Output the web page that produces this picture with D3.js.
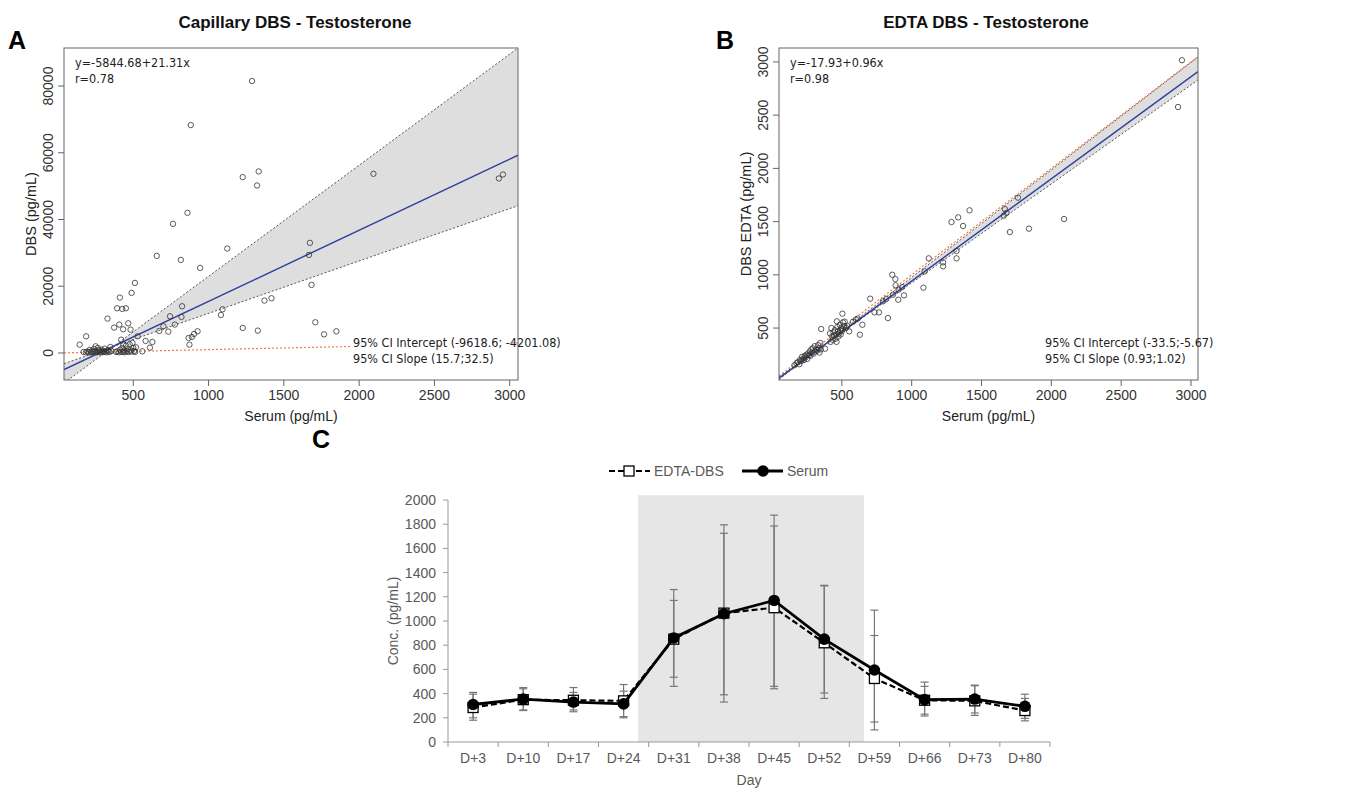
<!DOCTYPE html>
<html>
<head>
<meta charset="utf-8">
<script src="https://cdn.jsdelivr.net/npm/d3@7"></script>
<style>
body { margin: 0; background: #fff; }
text { font-family: "Liberation Sans", Arial, sans-serif; }
.note { font-family: "Liberation Sans Narrow", "DejaVu Sans Condensed", sans-serif; font-size: 12.5px; fill: #222; }
</style>
</head>
<body>
<svg id="fig" width="1354" height="788"></svg>
<script>
// ---- panel A: capillary DBS vs serum ----
const capSerum = [1289, 882, 2095, 2928, 2955, 1227, 1333, 1322, 860, 764, 1673, 1667, 1684, 1124, 656, 816, 944,
  511, 489, 411, 393, 427, 451, 824, 1371, 1418, 329, 373, 407, 467, 433, 482, 744, 820, 1082, 1093, 700, 673,
  733, 776, 867, 889, 904, 927, 873, 582, 627, 611, 560, 529, 1227, 1327, 1709, 1767, 1849, 187, 144, 420, 433,
  170, 185, 195, 205, 210, 218, 225, 232, 240, 245, 250, 255, 260, 265, 270, 275, 280, 288, 292, 298, 305, 310,
  315, 322, 330, 335, 342, 348, 355,
  385, 395, 405, 412, 420, 428, 432, 440, 445, 452, 458, 463, 470, 476, 482, 488, 495, 500, 506, 512, 518];
const capDbs = [81500, 68300, 53700, 52300, 53500, 52700, 54400, 50200, 42000, 38700, 33000, 29400, 20400, 31300,
  29100, 27900, 25500, 21000, 18000, 16600, 13400, 13200, 13400, 14000, 15700, 16400, 10300, 7600, 8500, 8900,
  7100, 7000, 11000, 10800, 11400, 13100, 8000, 6600, 6400, 8500, 4500, 4800, 5700, 6500, 2500, 3600, 3300, 1600,
  500, 5000, 7500, 6700, 9200, 5600, 6500, 5000, 2500, 4000, 2600,
  300, 200, 400, 250, 900, 150, 600, 300, 1200, 350, 2000, 500, 200, 1500, 800, 300, 400, 1000, 200, 600, 300,
  1300, 500, 200, 800, 400, 300, 1800, 600,
  300, 500, 200, 1000, 400, 1500, 300, 700, 200, 2200, 500, 1200, 300, 2600, 800, 400, 3000, 1500, 600, 300, 1700];
const capFit = [-5844.68, 21.31];
const capBand = [[-10330, 33.3], [-3830, 15.7]];

// ---- panel B: EDTA DBS vs serum ----
const edtaSerum = [2935, 2907, 2091, 1840, 1703, 1761, 1667, 1679, 1660, 1414, 1333, 1285, 1368, 1321, 1321, 1225,
  1225, 1122, 1093, 1084, 861, 883, 885, 906, 932, 945, 904, 866, 818, 794, 766, 734, 703, 830, 647, 629, 552,
  504, 508, 464, 352, 380,
  415, 420, 425, 430, 435, 440, 445, 450, 455, 460, 462, 468, 472, 475, 480, 485, 488, 492, 496, 500, 505, 515,
  520, 530, 540, 580, 600, 615,
  160, 175, 185, 195, 200, 210, 215, 220, 228, 235, 240, 248, 252, 258, 265, 270, 275, 282, 288, 292, 298, 305,
  310, 318, 325, 330, 335, 340, 345, 350];
const edtaDbs = [3016, 2577, 1524, 1434, 1402, 1725, 1618, 1581, 1556, 1606, 1540, 1496, 1459, 1224, 1155, 1117,
  1080, 1155, 1032, 879, 1001, 960, 901, 860, 885, 807, 766, 813, 773, 751, 647, 647, 776, 594, 531, 437, 469,
  635, 553, 563, 491, 306,
  450, 370, 500, 420, 390, 460, 430, 480, 400, 440, 370, 510, 470, 420, 450, 530, 480, 440, 500, 470, 490, 520,
  560, 500, 520, 560, 580, 590,
  150, 170, 180, 160, 200, 190, 230, 210, 200, 240, 225, 250, 210, 260, 245, 280, 240, 300, 270, 310, 260, 330,
  280, 300, 290, 340, 310, 270, 360, 300];
const edtaFit = [-17.93, 0.96];
const edtaBand = [[-33.5, 1.01], [-5.67, 0.93]];

const serumTicks = [500, 1000, 1500, 2000, 2500, 3000];

// ---- panel C: time course ----
const days = ["D+3", "D+10", "D+17", "D+24", "D+31", "D+38", "D+45", "D+52", "D+59", "D+66", "D+73", "D+80"];
const serumMean = [310, 355, 330, 315, 860, 1060, 1170, 850, 595, 350, 355, 295];
const serumLo = [200, 260, 250, 210, 460, 330, 460, 405, 100, 215, 240, 195];
const serumHi = [410, 450, 410, 420, 1260, 1795, 1875, 1295, 1090, 495, 470, 395];
const edtaMean = [285, 350, 345, 340, 850, 1065, 1110, 820, 525, 345, 340, 260];
const edtaLo = [180, 265, 265, 200, 535, 390, 440, 360, 165, 230, 220, 175];
const edtaHi = [395, 440, 450, 475, 1170, 1725, 1785, 1290, 880, 460, 465, 360];
const concTicks = [0, 200, 400, 600, 800, 1000, 1200, 1400, 1600, 1800, 2000];

const svg = d3.select("#fig");

function scatterPanel(p) {
    const x = d3.scaleLinear().domain(p.xDomain).range([p.left, p.right]);
    const y = d3.scaleLinear().domain(p.yDomain).range([p.bottom, p.top]);
    const g = svg.append("g");

    g.append("clipPath").attr("id", p.id + "clip")
        .append("rect")
        .attr("x", p.left).attr("y", p.top)
        .attr("width", p.right - p.left).attr("height", p.bottom - p.top);
    const inner = g.append("g").attr("clip-path", `url(#${p.id}clip)`);

    const x0 = p.xDomain[0], x1 = p.xDomain[1];
    const f = (l, v) => l[0] + l[1] * v;
    const [b1, b2] = p.band;
    inner.append("path")
        .attr("d", `M${x(x0)},${y(f(b1, x0))}L${x(x1)},${y(f(b1, x1))}L${x(x1)},${y(f(b2, x1))}L${x(x0)},${y(f(b2, x0))}Z`)
        .attr("fill", "#dedede");
    p.band.forEach(l => {
        inner.append("line")
            .attr("x1", x(x0)).attr("y1", y(f(l, x0)))
            .attr("x2", x(x1)).attr("y2", y(f(l, x1)))
            .attr("stroke", "#555").attr("stroke-width", 1).attr("stroke-dasharray", "2,2");
    });
    inner.append("line")
        .attr("x1", x(x0)).attr("y1", y(x0))
        .attr("x2", x(x1)).attr("y2", y(x1))
        .attr("stroke", "#f07a45").attr("stroke-width", 1.2).attr("stroke-dasharray", "2,2");
    inner.append("line")
        .attr("x1", x(x0)).attr("y1", y(f(p.fit, x0)))
        .attr("x2", x(x1)).attr("y2", y(f(p.fit, x1)))
        .attr("stroke", "#2c3e9e").attr("stroke-width", 1.4);

    inner.selectAll("circle")
        .data(p.xs.map((v, i) => [v, p.ys[i]]))
        .join("circle")
        .attr("cx", d => x(d[0]))
        .attr("cy", d => y(d[1]))
        .attr("r", 2.7)
        .attr("fill", "none")
        .attr("stroke", "#333")
        .attr("stroke-width", 0.8);

    // box
    g.append("rect")
        .attr("x", p.left).attr("y", p.top)
        .attr("width", p.right - p.left).attr("height", p.bottom - p.top)
        .attr("fill", "none").attr("stroke", "#666").attr("stroke-width", 1);

    // x axis
    p.xTicks.forEach(t => {
        g.append("line").attr("x1", x(t)).attr("x2", x(t))
            .attr("y1", p.bottom).attr("y2", p.bottom + 6).attr("stroke", "#666");
        g.append("text").attr("x", x(t)).attr("y", p.bottom + 20)
            .attr("text-anchor", "middle").attr("font-size", 14).attr("fill", "#333").text(t);
    });
    // y axis
    p.yTicks.forEach(t => {
        g.append("line").attr("x1", p.left - 6).attr("x2", p.left)
            .attr("y1", y(t)).attr("y2", y(t)).attr("stroke", "#666");
        g.append("text")
            .attr("transform", `translate(${p.left - 11},${y(t)}) rotate(-90)`)
            .attr("text-anchor", "middle").attr("font-size", 14).attr("fill", "#333").text(t);
    });

    g.append("text").attr("x", (p.left + p.right) / 2).attr("y", p.bottom + 41)
        .attr("text-anchor", "middle").attr("font-size", 14).attr("fill", "#222").text("Serum (pg/mL)");
    g.append("text")
        .attr("transform", `translate(${p.left - 28},${(p.top + p.bottom) / 2}) rotate(-90)`)
        .attr("text-anchor", "middle").attr("font-size", 14.5).attr("fill", "#222").text(p.yTitle);

    g.append("text").attr("x", p.titleX).attr("y", 28)
        .attr("text-anchor", "middle").attr("font-weight", "bold").attr("font-size", 17)
        .style("font-family", "'Liberation Sans Narrow', 'Liberation Sans', sans-serif")
        .attr("fill", "#111").text(p.title);
    g.append("text").attr("x", p.letterX).attr("y", 49)
        .attr("font-weight", "bold").attr("font-size", 25).attr("fill", "#000").text(p.letter);

    g.append("text").attr("class", "note").attr("x", p.left + 11).attr("y", 67).text(p.eq);
    g.append("text").attr("class", "note").attr("x", p.left + 11).attr("y", 83).text(p.r);

    g.append("rect").attr("x", p.ciX - 3).attr("y", 334)
        .attr("width", p.right - p.ciX - 4).attr("height", 34).attr("fill", "#fff");
    g.append("text").attr("class", "note").attr("x", p.ciX).attr("y", 347).text(p.ci1);
    g.append("text").attr("class", "note").attr("x", p.ciX).attr("y", 363).text(p.ci2);
}

scatterPanel({
    id: "a", left: 64, right: 518, top: 48, bottom: 380,
    xDomain: [40, 3055], yDomain: [-8100, 91400],
    xTicks: serumTicks, yTicks: [0, 20000, 40000, 60000, 80000],
    xs: capSerum, ys: capDbs, fit: capFit, band: capBand,
    yTitle: "DBS (pg/mL)", title: "Capillary DBS - Testosterone", titleX: 295,
    letter: "A", letterX: 8,
    eq: "y=-5844.68+21.31x", r: "r=0.78", ciX: 353,
    ci1: "95% CI Intercept (-9618.6; -4201.08)", ci2: "95% CI Slope (15.7;32.5)"
});

scatterPanel({
    id: "b", left: 779, right: 1198, top: 48, bottom: 380,
    xDomain: [50, 3050], yDomain: [12, 3131],
    xTicks: serumTicks, yTicks: [500, 1000, 1500, 2000, 2500, 3000],
    xs: edtaSerum, ys: edtaDbs, fit: edtaFit, band: edtaBand,
    yTitle: "DBS EDTA (pg/mL)", title: "EDTA DBS - Testosterone", titleX: 986,
    letter: "B", letterX: 716,
    eq: "y=-17.93+0.96x", r: "r=0.98", ciX: 1045,
    ci1: "95% CI Intercept (-33.5;-5.67)", ci2: "95% CI Slope (0.93;1.02)"
});

// ---- panel C ----
const cx = d3.scaleBand().domain(days).range([448, 1050]);
const cy = d3.scaleLinear().domain([0, 2000]).range([742, 500]);
const gc = svg.append("g");
const grey = "#595959";
const bw = cx.bandwidth();

gc.append("rect")
    .attr("x", cx("D+24") + 0.79 * bw)
    .attr("y", cy(2040))
    .attr("width", cx("D+59") + 0.29 * bw - (cx("D+24") + 0.79 * bw))
    .attr("height", cy(0) - cy(2040))
    .attr("fill", "#e6e6e6");

// axes
gc.append("line").attr("x1", 448).attr("x2", 448).attr("y1", cy(2000)).attr("y2", cy(0))
    .attr("stroke", "#999");
gc.append("line").attr("x1", 448).attr("x2", 1050).attr("y1", cy(0)).attr("y2", cy(0))
    .attr("stroke", "#999");
concTicks.forEach(t => {
    gc.append("line").attr("x1", 443).attr("x2", 448).attr("y1", cy(t)).attr("y2", cy(t)).attr("stroke", "#999");
    gc.append("text").attr("x", 436).attr("y", cy(t) + 5).attr("text-anchor", "end")
        .attr("font-size", 14).attr("fill", grey).text(t);
});
days.forEach((d, i) => {
    gc.append("line").attr("x1", cx(d)).attr("x2", cx(d)).attr("y1", cy(0)).attr("y2", cy(0) + 5).attr("stroke", "#999");
    gc.append("text").attr("x", cx(d) + bw / 2).attr("y", 763).attr("text-anchor", "middle")
        .attr("font-size", 14).attr("fill", grey).text(d);
});
gc.append("line").attr("x1", 1050).attr("x2", 1050).attr("y1", cy(0)).attr("y2", cy(0) + 5).attr("stroke", "#999");

gc.append("text").attr("x", 749).attr("y", 785).attr("text-anchor", "middle")
    .attr("font-size", 14).attr("fill", grey).text("Day");
gc.append("text").attr("transform", `translate(398,621) rotate(-90)`).attr("text-anchor", "middle")
    .attr("font-size", 14).attr("fill", grey).text("Conc. (pg/mL)");
gc.append("text").attr("x", 312).attr("y", 448).attr("font-weight", "bold").attr("font-size", 25)
    .attr("fill", "#000").text("C");

// error bars
function errBars(lo, hi) {
    days.forEach((d, i) => {
        const xc = cx(d) + bw / 2;
        gc.append("line").attr("x1", xc).attr("x2", xc).attr("y1", cy(lo[i])).attr("y2", cy(hi[i]))
            .attr("stroke", "#777").attr("stroke-width", 1.2);
        [lo[i], hi[i]].forEach(v => {
            gc.append("line").attr("x1", xc - 4).attr("x2", xc + 4).attr("y1", cy(v)).attr("y2", cy(v))
                .attr("stroke", "#777").attr("stroke-width", 1.2);
        });
    });
}
errBars(edtaLo, edtaHi);
errBars(serumLo, serumHi);

const line = d3.line().x((v, i) => cx(days[i]) + bw / 2).y(v => cy(v));
gc.append("path").attr("d", line(edtaMean)).attr("fill", "none").attr("stroke", "#000")
    .attr("stroke-width", 2.2).attr("stroke-dasharray", "6,3");
gc.selectAll(".sq").data(edtaMean).join("rect").attr("class", "sq")
    .attr("x", (v, i) => cx(days[i]) + bw / 2 - 5).attr("y", v => cy(v) - 5)
    .attr("width", 10).attr("height", 10).attr("fill", "#fff").attr("stroke", "#000").attr("stroke-width", 1.3);
gc.append("path").attr("d", line(serumMean)).attr("fill", "none").attr("stroke", "#000")
    .attr("stroke-width", 2.8);
gc.selectAll(".dot").data(serumMean).join("circle").attr("class", "dot")
    .attr("cx", (v, i) => cx(days[i]) + bw / 2).attr("cy", v => cy(v)).attr("r", 5.8).attr("fill", "#000");

// legend
const lg = gc.append("g");
lg.append("line").attr("x1", 609).attr("x2", 650).attr("y1", 471).attr("y2", 471)
    .attr("stroke", "#000").attr("stroke-width", 2.2).attr("stroke-dasharray", "6,3");
lg.append("rect").attr("x", 624).attr("y", 466).attr("width", 10).attr("height", 10)
    .attr("fill", "#fff").attr("stroke", "#000").attr("stroke-width", 1.3);
lg.append("text").attr("x", 654).attr("y", 476).attr("font-size", 14).attr("fill", grey).text("EDTA-DBS");
lg.append("line").attr("x1", 742).attr("x2", 783).attr("y1", 471).attr("y2", 471)
    .attr("stroke", "#000").attr("stroke-width", 2.8);
lg.append("circle").attr("cx", 763).attr("cy", 471).attr("r", 5.8).attr("fill", "#000");
lg.append("text").attr("x", 787).attr("y", 476).attr("font-size", 14).attr("fill", grey).text("Serum");
</script>
</body>
</html>
